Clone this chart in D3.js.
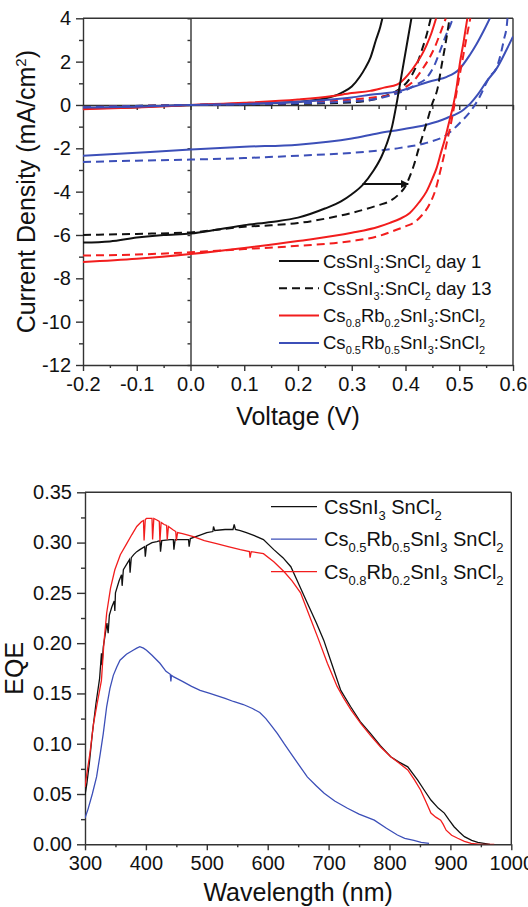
<!DOCTYPE html>
<html><head><meta charset="utf-8">
<script src="https://cdn.jsdelivr.net/npm/d3@7"></script>
<style>
html,body{margin:0;padding:0;background:#fff;}
svg{display:block;font-family:"Liberation Sans",Arial,Helvetica,sans-serif;}
</style></head>
<body>
<svg id="chart" width="528" height="907"></svg>
<script>
// ---------- J-V data (Voltage V, Current density mA/cm2) ----------
const jvXTicks = [-0.2,-0.1,0.0,0.1,0.2,0.3,0.4,0.5,0.6];
const jvXMinor = [-0.15,-0.05,0.05,0.15,0.25,0.35,0.45,0.55];
const jvYTicks = [-12,-10,-8,-6,-4,-2,0,2,4];
const jvYMinor = [-11,-9,-7,-5,-3,-1,1,3];

const day1Light = [[-0.2,-6.35],[-0.15,-6.3],[-0.1,-6.12],[-0.05,-6.0],[0,-5.93],[0.05,-5.75],[0.1,-5.55],[0.15,-5.4],[0.2,-5.2],[0.25,-4.78],[0.28,-4.45],[0.3,-4.12],[0.32,-3.7],[0.34,-3.05],[0.355,-2.4],[0.365,-1.8],[0.375,-1.0],[0.383,0],[0.39,1.0],[0.397,2.0],[0.404,3.0],[0.411,4.0]];
const day1Dark = [[-0.2,-0.15],[-0.1,-0.1],[0,0],[0.1,0.05],[0.2,0.15],[0.25,0.3],[0.28,0.55],[0.3,0.85],[0.315,1.3],[0.325,1.7],[0.335,2.2],[0.345,3.0],[0.353,3.6],[0.357,4.0]];
const day13Light = [[-0.2,-6.0],[-0.1,-5.95],[0,-5.88],[0.1,-5.62],[0.15,-5.55],[0.2,-5.45],[0.25,-5.25],[0.3,-4.98],[0.35,-4.62],[0.37,-4.45],[0.39,-4.06],[0.4,-3.75],[0.408,-3.3],[0.416,-2.75],[0.424,-2.06],[0.434,-1.25],[0.442,-0.6],[0.449,0],[0.46,0.8],[0.467,1.8],[0.475,2.9],[0.482,4.0]];
const day13Dark = [[-0.2,-0.1],[0,0],[0.1,0.02],[0.2,0.05],[0.3,0.12],[0.34,0.25],[0.36,0.4],[0.38,0.6],[0.395,0.85],[0.41,1.3],[0.42,1.8],[0.43,2.5],[0.44,3.3],[0.447,4.0]];
const rb02Light = [[-0.2,-7.25],[-0.1,-7.1],[0,-6.88],[0.1,-6.6],[0.2,-6.28],[0.3,-5.9],[0.35,-5.62],[0.371,-5.44],[0.39,-5.25],[0.408,-4.98],[0.425,-4.5],[0.439,-4.0],[0.45,-3.4],[0.458,-2.9],[0.466,-2.2],[0.473,-1.6],[0.482,-0.7],[0.489,0],[0.495,0.8],[0.501,1.9],[0.508,2.9],[0.515,4.0]];
const rb02Dark = [[-0.2,-0.2],[-0.1,-0.12],[0,0],[0.1,0.1],[0.2,0.25],[0.261,0.4],[0.3,0.55],[0.334,0.65],[0.36,0.8],[0.385,0.95],[0.405,1.4],[0.421,1.94],[0.43,2.3],[0.439,2.75],[0.448,3.3],[0.457,4.0]];
const rb02DashLight = [[-0.2,-6.95],[-0.1,-6.9],[0,-6.8],[0.1,-6.65],[0.2,-6.5],[0.3,-6.28],[0.35,-6.05],[0.377,-5.82],[0.4,-5.6],[0.415,-5.44],[0.43,-5.1],[0.446,-4.52],[0.456,-3.9],[0.464,-3.13],[0.471,-2.4],[0.478,-1.6],[0.485,-0.8],[0.491,0],[0.498,1.0],[0.505,1.94],[0.512,2.9],[0.52,3.93],[0.522,4.2]];
const rb02DashDark = [[-0.2,-0.1],[0,0],[0.1,0.05],[0.2,0.1],[0.3,0.25],[0.34,0.35],[0.371,0.45],[0.39,0.7],[0.415,1.1],[0.43,1.6],[0.446,2.24],[0.455,2.7],[0.467,3.47],[0.475,4.0]];
const rb05Light = [[-0.2,-2.34],[-0.1,-2.2],[0,-2.06],[0.1,-1.93],[0.2,-1.83],[0.3,-1.55],[0.35,-1.3],[0.39,-1.14],[0.439,-0.91],[0.477,-0.6],[0.508,-0.22],[0.52,0.05],[0.535,0.5],[0.551,1.09],[0.57,1.7],[0.588,2.55],[0.6,3.16]];
const rb05Dark = [[-0.2,-0.12],[-0.1,-0.08],[0,0],[0.1,0.05],[0.2,0.15],[0.3,0.35],[0.334,0.47],[0.39,0.65],[0.427,0.94],[0.45,1.12],[0.477,1.3],[0.5,1.65],[0.52,2.32],[0.532,2.8],[0.545,3.4],[0.557,4.0]];
const rb05DashLight = [[-0.2,-2.63],[-0.1,-2.57],[0,-2.52],[0.1,-2.45],[0.2,-2.34],[0.3,-2.21],[0.35,-2.1],[0.39,-1.98],[0.439,-1.75],[0.477,-1.37],[0.501,-0.83],[0.523,-0.22],[0.535,0.24],[0.557,1.32],[0.57,1.75],[0.576,2.24],[0.583,3.0],[0.589,3.8],[0.59,4.1]];
const rb05DashDark = [[-0.2,-0.1],[0,0],[0.1,0.03],[0.2,0.08],[0.3,0.17],[0.35,0.3],[0.38,0.5],[0.402,0.7],[0.42,0.95],[0.439,1.24],[0.455,1.9],[0.464,2.47],[0.475,3.2],[0.486,3.85],[0.488,4.0]];

const arrowV = [0.32, 0.405];
const arrowJ = -3.65;

const jvLegend = ["CsSnI_{3}:SnCl_{2} day 1","CsSnI_{3}:SnCl_{2} day 13","Cs_{0.8}Rb_{0.2}SnI_{3}:SnCl_{2}","Cs_{0.5}Rb_{0.5}SnI_{3}:SnCl_{2}"];

// ---------- EQE data (wavelength nm, EQE) ----------
const eqeXTicks = [300,400,500,600,700,800,900,1000];
const eqeXMinor = [350,450,550,650,750,850,950];
const eqeYTicks = [0.00,0.05,0.10,0.15,0.20,0.25,0.30,0.35];
const eqeYMinor = [0.025,0.075,0.125,0.175,0.225,0.275,0.325];

const eqeCsSnI3 = [[300,0.049],[303,0.06],[307,0.08],[312,0.11],[318,0.14],[324,0.165],[327,0.19],[328,0.178],[330,0.196],[336,0.22],[338,0.21],[340,0.228],[344,0.236],[348,0.242],[349,0.232],[350,0.25],[356,0.262],[360,0.268],[361,0.257],[363,0.273],[370,0.28],[373,0.283],[374,0.27],[376,0.285],[380,0.288],[385,0.291],[390,0.293],[398,0.296],[399,0.286],[401,0.297],[410,0.3],[418,0.301],[423,0.302],[424,0.291],[426,0.302],[440,0.303],[445,0.303],[446,0.293],[448,0.303],[470,0.303],[471,0.296],[473,0.304],[489,0.3075],[500,0.31],[510,0.311],[511,0.316],[513,0.312],[530,0.313],[543,0.313],[545,0.318],[547,0.313],[555,0.312],[565,0.31],[576,0.3075],[593,0.303],[610,0.293],[625,0.285],[638,0.276],[650,0.26],[665,0.24],[680,0.22],[692,0.203],[706,0.178],[720,0.153],[736,0.137],[752,0.122],[769,0.11],[785,0.098],[802,0.087],[815,0.082],[830,0.077],[846,0.064],[858,0.053],[868,0.044],[880,0.036],[890,0.031],[898,0.024],[906,0.0175],[915,0.012],[923,0.0076],[935,0.004],[945,0.002],[955,0.001],[965,0]];
const eqeRb05 = [[300,0.026],[305,0.035],[312,0.05],[319,0.067],[325,0.09],[330,0.11],[335.6,0.137],[341,0.155],[346.5,0.168],[352,0.176],[357.5,0.183],[368,0.189],[379,0.193],[385,0.195],[390,0.1965],[396,0.195],[401,0.193],[410,0.188],[423,0.18],[433,0.172],[440,0.169],[441,0.162],[442,0.168],[445,0.1667],[460,0.162],[475,0.157],[489,0.153],[505,0.15],[520,0.147],[530,0.145],[543.7,0.142],[560,0.139],[575,0.135],[587,0.131],[597,0.125],[606,0.118],[616,0.11],[627,0.1],[638,0.0905],[650,0.08],[665,0.067],[680,0.058],[692.7,0.0507],[710,0.043],[731,0.0358],[750,0.03],[775,0.024],[795,0.016],[813,0.0092],[825,0.006],[840,0.004],[852,0.002],[865,0.001]];
const eqeRb02 = [[300,0.057],[303,0.07],[308,0.09],[314,0.12],[320,0.14],[327,0.163],[331,0.2],[335.6,0.23],[342,0.255],[349,0.273],[358,0.288],[368.5,0.299],[377,0.308],[385,0.316],[393,0.321],[396,0.322],[397,0.302],[399,0.323],[401,0.324],[410,0.324],[411,0.303],[413,0.324],[418,0.3225],[422,0.321],[423,0.301],[425,0.32],[430,0.318],[434,0.317],[435,0.303],[437,0.316],[445,0.3125],[449,0.311],[450,0.302],[452,0.31],[460,0.309],[478,0.306],[496,0.302],[516,0.299],[535,0.296],[555,0.293],[570,0.291],[571,0.285],[573,0.291],[593,0.289],[610,0.281],[627,0.271],[640,0.262],[654,0.25],[668,0.228],[682,0.206],[698,0.18],[714,0.157],[725,0.145],[737,0.1335],[753,0.12],[769,0.108],[785,0.097],[802,0.087],[815,0.081],[830,0.074],[841,0.064],[851,0.054],[860,0.042],[868,0.031],[876,0.027],[884,0.024],[888,0.02],[893,0.014],[902,0.009],[912,0.006],[923,0.003],[934,0.001],[950,0],[972,0]];

const eqeLegend = ["CsSnI_{3} SnCl_{2}","Cs_{0.5}Rb_{0.5}SnI_{3} SnCl_{2}","Cs_{0.8}Rb_{0.2}SnI_{3} SnCl_{2}"];

// ---------- styling ----------
const BLACK = "#111111", RED = "#f21d1d", BLUE = "#3c4fb8", AXIS = "#333333";
const loc = d3.formatLocale({decimal:".",thousands:",",grouping:[3],currency:["",""],minus:"-"});

const svg = d3.select("#chart");

// rich text helper: "_{x}" subscript, "^{x}" superscript
function rich(textSel, str, subSize, shift){
  const re = /([_^])\{([^}]*)\}/g;
  let last = 0, m, pendingBack = 0;
  const segs = [];
  while((m = re.exec(str))){
    if(m.index > last) segs.push({t:str.slice(last,m.index), k:""});
    segs.push({t:m[2], k:m[1]});
    last = re.lastIndex;
  }
  if(last < str.length) segs.push({t:str.slice(last), k:""});
  segs.forEach(s=>{
    const ts = textSel.append("tspan").text(s.t);
    if(s.k === "_"){ ts.attr("dy", shift - pendingBack).attr("font-size", subSize); pendingBack = shift; }
    else if(s.k === "^"){ ts.attr("dy", -shift - pendingBack).attr("font-size", subSize); pendingBack = -shift; }
    else { if(pendingBack) ts.attr("dy", -pendingBack); pendingBack = 0; }
  });
}

function styleAxis(g){
  g.selectAll("path,line").attr("stroke", AXIS).attr("stroke-width", 1.4);
  g.selectAll("text").attr("fill", "#111").attr("font-family", '"Liberation Sans",Arial,sans-serif');
}

// ================= TOP: J-V =================
const xJV = d3.scaleLinear().domain([-0.2,0.6]).range([83,513]);
const yJV = d3.scaleLinear().domain([-12,4]).range([365,18.3]);

svg.append("defs").append("clipPath").attr("id","clipJV").append("rect")
  .attr("x", xJV(-0.2)).attr("y", yJV(4)).attr("width", xJV(0.6)-xJV(-0.2)).attr("height", yJV(-12)-yJV(4));
svg.select("defs").append("clipPath").attr("id","clipEQE").append("rect")
  .attr("x", 85).attr("y", 492.3).attr("width", 426.3).attr("height", 352);
svg.select("defs").append("marker").attr("id","arrowHead").attr("viewBox","0 0 10 10")
  .attr("refX",9).attr("refY",5).attr("markerWidth",5).attr("markerHeight",4)
  .attr("markerUnits","strokeWidth").attr("orient","auto")
  .append("path").attr("d","M0,0 L10,5 L0,10 z").attr("fill",BLACK);

// frame top & right
svg.append("line").attr("x1",xJV(-0.2)).attr("x2",xJV(0.6)).attr("y1",yJV(4)).attr("y2",yJV(4)).attr("stroke",AXIS).attr("stroke-width",1.4);
svg.append("line").attr("x1",xJV(0.6)).attr("x2",xJV(0.6)).attr("y1",yJV(4)).attr("y2",yJV(-12)).attr("stroke",AXIS).attr("stroke-width",1.4);

// zero lines
svg.append("g").attr("transform",`translate(${xJV(0)},0)`)
  .call(d3.axisLeft(yJV).tickValues(jvYTicks.concat(jvYMinor)).tickSize(3).tickSizeOuter(0).tickFormat(""))
  .call(styleAxis);
svg.append("g").attr("transform",`translate(0,${yJV(0)})`)
  .call(d3.axisBottom(xJV).tickValues(jvXTicks).tickSize(5).tickSizeOuter(0).tickFormat(""))
  .call(styleAxis);
svg.append("g").attr("transform",`translate(0,${yJV(0)})`)
  .call(d3.axisBottom(xJV).tickValues(jvXMinor).tickSize(4).tickSizeOuter(0).tickFormat(""))
  .call(g=>g.select(".domain").remove()).call(styleAxis);

// left axis
svg.append("g").attr("transform",`translate(${xJV(-0.2)},0)`)
  .call(d3.axisLeft(yJV).tickValues(jvYTicks).tickSize(7).tickPadding(5).tickSizeOuter(0).tickFormat(loc.format("d")))
  .call(g=>g.selectAll("text").attr("font-size",20))
  .call(styleAxis);
svg.append("g").attr("transform",`translate(${xJV(-0.2)},0)`)
  .call(d3.axisLeft(yJV).tickValues(jvYMinor).tickSize(4).tickSizeOuter(0).tickFormat(""))
  .call(g=>g.select(".domain").remove()).call(styleAxis);
// bottom axis
svg.append("g").attr("transform",`translate(0,${yJV(-12)})`)
  .call(d3.axisBottom(xJV).tickValues(jvXTicks).tickSize(6).tickPadding(6).tickSizeOuter(0).tickFormat(loc.format(".1f")))
  .call(g=>g.selectAll("text").attr("font-size",20))
  .call(styleAxis);
svg.append("g").attr("transform",`translate(0,${yJV(-12)})`)
  .call(d3.axisBottom(xJV).tickValues(jvXMinor).tickSize(3).tickSizeOuter(0).tickFormat(""))
  .call(g=>g.select(".domain").remove()).call(styleAxis);

// curves
const lineJV = d3.line().x(d=>xJV(d[0])).y(d=>yJV(d[1])).curve(d3.curveMonotoneX);
const jvSeries = [
  {d:day1Dark, c:BLACK, dash:null},
  {d:day13Dark, c:BLACK, dash:"8,5"},
  {d:rb02Dark, c:RED, dash:null},
  {d:rb02DashDark, c:RED, dash:"8,5"},
  {d:rb05Dark, c:BLUE, dash:null},
  {d:rb05DashDark, c:BLUE, dash:"8,5"},
  {d:rb05Light, c:BLUE, dash:null},
  {d:rb05DashLight, c:BLUE, dash:"8,5"},
  {d:rb02Light, c:RED, dash:null},
  {d:rb02DashLight, c:RED, dash:"8,5"},
  {d:day13Light, c:BLACK, dash:"8,5"},
  {d:day1Light, c:BLACK, dash:null}
];
const gJV = svg.append("g").attr("clip-path","url(#clipJV)");
jvSeries.forEach(s=>{
  gJV.append("path").attr("d", lineJV(s.d)).attr("fill","none").attr("stroke", s.c)
    .attr("stroke-width", 2).attr("stroke-dasharray", s.dash);
});
// arrow
svg.append("line").attr("x1", xJV(arrowV[0])).attr("x2", xJV(arrowV[1]))
  .attr("y1", yJV(arrowJ)).attr("y2", yJV(arrowJ)).attr("stroke", BLACK).attr("stroke-width",2)
  .attr("marker-end","url(#arrowHead)");

// legend JV
const jvLegStyle = [{c:BLACK,dash:null},{c:BLACK,dash:"8,5"},{c:RED,dash:null},{c:BLUE,dash:null}];
jvLegend.forEach((lab,i)=>{
  const y = 261 + i*27.3;
  svg.append("line").attr("x1",279).attr("x2",319).attr("y1",y).attr("y2",y)
    .attr("stroke",jvLegStyle[i].c).attr("stroke-width",2).attr("stroke-dasharray",jvLegStyle[i].dash);
  const t = svg.append("text").attr("x",323).attr("y",y+6.5).attr("font-size",18.5).attr("fill","#111");
  rich(t, lab, 11, 5);
});

// axis titles JV
svg.append("text").attr("x", (xJV(-0.2)+xJV(0.6))/2).attr("y", 425).attr("text-anchor","middle")
  .attr("font-size",25).attr("fill","#111").text("Voltage (V)");
{
  const t = svg.append("text").attr("transform",`translate(35,${(yJV(4)+yJV(-12))/2}) rotate(-90)`)
    .attr("text-anchor","middle").attr("font-size",25).attr("fill","#111");
  rich(t, "Current Density (mA/cm^{2})", 15, 9);
}

// ================= BOTTOM: EQE =================
const xE = d3.scaleLinear().domain([300,1000]).range([85,511.3]);
const yE = d3.scaleLinear().domain([0,0.35]).range([844.3,492.3]);

svg.append("line").attr("x1",xE(300)).attr("x2",xE(1000)).attr("y1",yE(0.35)).attr("y2",yE(0.35)).attr("stroke",AXIS).attr("stroke-width",1.4);
svg.append("line").attr("x1",xE(1000)).attr("x2",xE(1000)).attr("y1",yE(0.35)).attr("y2",yE(0)).attr("stroke",AXIS).attr("stroke-width",1.4);

svg.append("g").attr("transform",`translate(${xE(300)},0)`)
  .call(d3.axisLeft(yE).tickValues(eqeYTicks).tickSize(8).tickPadding(5).tickSizeOuter(0).tickFormat(loc.format(".2f")))
  .call(g=>g.selectAll("text").attr("font-size",20))
  .call(styleAxis);
svg.append("g").attr("transform",`translate(${xE(300)},0)`)
  .call(d3.axisLeft(yE).tickValues(eqeYMinor).tickSize(4).tickSizeOuter(0).tickFormat(""))
  .call(g=>g.select(".domain").remove()).call(styleAxis);
svg.append("g").attr("transform",`translate(0,${yE(0)})`)
  .call(d3.axisBottom(xE).tickValues(eqeXTicks).tickSize(6).tickPadding(6).tickSizeOuter(0).tickFormat(loc.format("d")))
  .call(g=>g.selectAll("text").attr("font-size",20))
  .call(styleAxis);
svg.append("g").attr("transform",`translate(0,${yE(0)})`)
  .call(d3.axisBottom(xE).tickValues(eqeXMinor).tickSize(3).tickSizeOuter(0).tickFormat(""))
  .call(g=>g.select(".domain").remove()).call(styleAxis);

const lineE = d3.line().x(d=>xE(d[0])).y(d=>yE(d[1]));
const gE = svg.append("g").attr("clip-path","url(#clipEQE)");
[{d:eqeRb05,c:BLUE},{d:eqeCsSnI3,c:BLACK},{d:eqeRb02,c:RED}].forEach(s=>{
  gE.append("path").attr("d", lineE(s.d)).attr("fill","none").attr("stroke", s.c).attr("stroke-width",1.3);
});

const eqeLegColors = [BLACK, BLUE, RED];
eqeLegend.forEach((lab,i)=>{
  const y = 506.7 + i*32.5;
  svg.append("line").attr("x1",271).attr("x2",317).attr("y1",y).attr("y2",y)
    .attr("stroke",eqeLegColors[i]).attr("stroke-width",1.3);
  const t = svg.append("text").attr("x",324).attr("y",y+7).attr("font-size",20).attr("fill","#111");
  rich(t, lab, 13, 6);
});

svg.append("text").attr("x", (xE(300)+xE(1000))/2).attr("y", 901).attr("text-anchor","middle")
  .attr("font-size",25).attr("fill","#111").text("Wavelength (nm)");
svg.append("text").attr("transform",`translate(23,${(yE(0)+yE(0.35))/2}) rotate(-90)`)
  .attr("text-anchor","middle").attr("font-size",25).attr("fill","#111").text("EQE");
</script>
</body></html>
